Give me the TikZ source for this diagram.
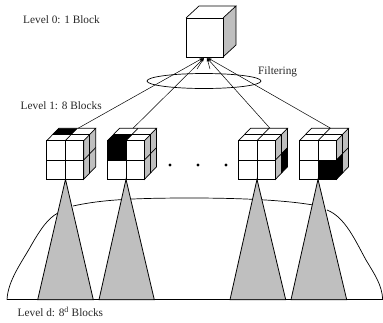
\documentclass[tikz,border=0pt]{standalone}
\usepackage{fontspec}
\setmainfont{Liberation Serif}
\usetikzlibrary{arrows.meta,shapes.geometric}
\definecolor{greyfill}{gray}{0.75}
\tikzset{
  stroke/.style={line width=0.7pt,line join=miter},
  txt/.style={font=\fontsize{11.3}{13}\selectfont,inner sep=0pt,anchor=base west,text=black!85},
  pointer/.style={line width=0.5pt,-{Stealth[length=4pt,width=2.5pt]}},
  wedge/.style={draw,fill=greyfill,line width=0.8pt,line join=miter},
}
% #1 left x of front face, #2 black cells drawn in the cube's own coordinates
\newcommand{\smallcube}[2]{%
  \begin{scope}[shift={(#1,0)}]
    \fill[greyfill] (37,140.7) -- (49,128.3) -- (49,166.8) -- (37,179.3) -- cycle;
    #2
    \draw[stroke] (0,140.7) rectangle (37,179.3);
    \draw[stroke] (18.5,140.7) -- (18.5,179.3) (0,160) -- (37,160);
    \draw[stroke] (0,140.7) -- (12,128.3) -- (49,128.3) -- (37,140.7);
    \draw[stroke] (49,128.3) -- (49,166.8) -- (37,179.3) -- (37,140.7);
    \draw[stroke] (18.5,140.7) -- (30.5,128.3);
    \draw[stroke] (6,134.5) -- (43,134.5) -- (43,173);
    \draw[stroke] (37,160) -- (49,147.5);
  \end{scope}}
\begin{document}
\begin{tikzpicture}[x=1pt,y=-1pt]
\useasboundingbox (0,0) rectangle (383,322);
% large curve
\draw[stroke] (7,299.7) .. controls (8,280) and (22,262) .. (32,244) .. controls (40,230) and (48,218) .. (58,213);
\draw[stroke] (73,206) .. controls (100,200) and (130,198) .. (191,198) .. controls (250,198) and (290,201) .. (313,205);
\draw[stroke] (327,210) .. controls (345,217) and (355,240) .. (366,260) .. controls (375,275) and (382,285) .. (382.7,299.7);
\draw[stroke] (6.7,299.7) -- (382.7,299.7);
% top cube
\coordinate (tl) at (186,18);
\coordinate (tr) at (223,18);
\coordinate (bl) at (186,57);
\coordinate (br) at (223,57);
\coordinate (ttl) at (199,6);
\coordinate (ttr) at (236,6);
\coordinate (tbr) at (236,45);
\fill[greyfill] (tr) -- (ttr) -- (tbr) -- (br) -- cycle;
\draw[stroke] (tl) rectangle (br);
\draw[stroke] (tl) -- (ttl) -- (ttr) -- (tr) (ttr) -- (tbr) -- (br);
% small cubes
\smallcube{46.7}{\fill (12,128.3) -- (30.5,128.3) -- (24.5,134.5) -- (6,134.5) -- cycle;}
\smallcube{107.5}{\fill (0,160) rectangle (18.5,140.7); \fill (0,140.7) -- (6,134.5) -- (24.5,134.5) -- (18.5,140.7) -- cycle;}
\smallcube{238.5}{\fill (43,153.7) -- (49,147.5) -- (49,166.8) -- (43,173) -- cycle;}
\smallcube{299.5}{\fill (18.5,160) rectangle (37,179.3); \fill (37,160) -- (43,153.7) -- (43,173) -- (37,179.3) -- cycle;}
% wedges
\coordinate (a1) at (65.5,179.3);
\coordinate (a2) at (126,179.3);
\coordinate (a3) at (257,179.3);
\coordinate (a4) at (318,179.3);
\draw[wedge] (a1) -- (37.7,299.7) -- (93.3,299.7) -- cycle;
\draw[wedge] (a2) -- (99,299.7) -- (154.3,299.7) -- cycle;
\draw[wedge] (a3) -- (230,299.7) -- (285.7,299.7) -- cycle;
\draw[wedge] (a4) -- (291,299.7) -- (346.7,299.7) -- cycle;
% filter
\node[draw,ellipse,line width=0.7pt,minimum width=114pt,minimum height=15pt,inner sep=0pt] (filter) at (204,81) {};
% pointers
\coordinate (p1) at (78,128.3);
\coordinate (p2) at (133,128.3);
\coordinate (p3) at (270,128.3);
\coordinate (p4) at (330.7,128.3);
\coordinate (h1) at (203,58);
\coordinate (h2) at (204,58);
\coordinate (h3) at (207,58);
\coordinate (h4) at (208,58);
\coordinate (f1) at (197,69);
\coordinate (f2) at (210,69);
\draw[pointer] (p1) -- (h1);
\draw[pointer] (p2) -- (h2);
\draw[pointer] (p3) -- (h3);
\draw[pointer] (p4) -- (h4);
\draw[pointer] (f1) -- (h2);
\draw[pointer] (f2) -- (h3);
% dots
\foreach \x in {170,198,226}
  \fill (\x,165) circle (1.7pt);
% text
\node[txt] (t0) at (23,23) {Level 0: 1 Block};
\node[txt] (t1) at (20.5,109) {Level 1: 8 Blocks};
\node[txt] (tf) at (258,74) {Filtering};
\node[txt] (td) at (17.5,316) {Level d: 8\textsuperscript{d} Blocks};
\end{tikzpicture}
\end{document}
